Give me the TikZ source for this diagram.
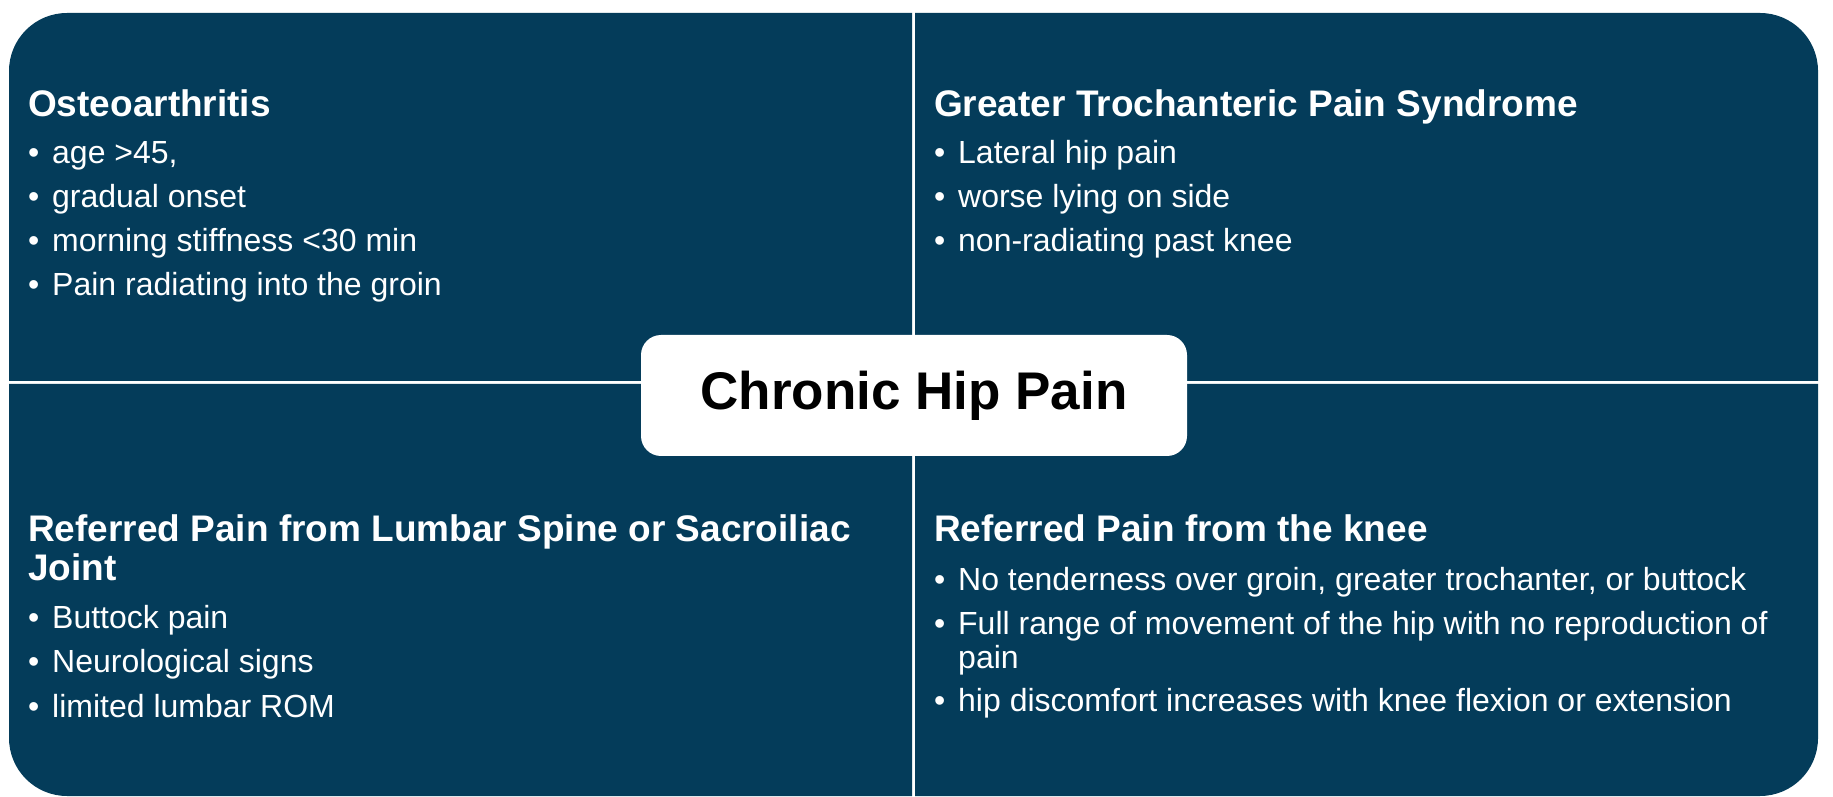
\documentclass[tikz,border=0pt]{standalone}
\definecolor{HipBlue}{RGB}{4,60,90}
\definecolor{HipWhite}{RGB}{255,255,255}
\usepackage{fontspec}
\setmainfont{Liberation Sans}
\usepackage{tikz}
\usetikzlibrary{positioning, calc}
\newcommand{\hipbullet}{\makebox[24pt][l]{\textbullet}}

\begin{document}
\begin{tikzpicture}[x=1pt, y=1pt,
  quad/.style={fill=HipBlue},
  head/.style={anchor=base west, inner sep=0pt, text=HipWhite, font=\bfseries\fontsize{37}{39}\selectfont},
  item/.style={anchor=base west, inner sep=0pt, text=HipWhite, font=\fontsize{32}{34}\selectfont},
  hub/.style={fill=HipWhite, rounded corners=20pt, minimum width=546pt, minimum height=121pt, inner sep=0pt, font=\bfseries\fontsize{53}{55}\selectfont}]
\useasboundingbox (0,0) rectangle (1833,796);
% four quadrants, one rounded outer corner each
\fill[quad] (912,415) -- (9,415) -- (9,725) arc[start angle=180, end angle=90, radius=58pt] -- (912,783) -- cycle;
\fill[quad] (915,415) -- (915,783) -- (1760,783) arc[start angle=90, end angle=0, radius=58pt] -- (1818,415) -- cycle;
\fill[quad] (912,412) -- (9,412) -- (9,58) arc[start angle=180, end angle=270, radius=58pt] -- (912,0) -- cycle;
\fill[quad] (915,412) -- (1818,412) -- (1818,58) arc[start angle=0, end angle=-90, radius=58pt] -- (915,0) -- cycle;
% top left
\node[head] (oa) at (28,679) {Osteoarthritis};
\node[item] (oa1) at (28,632) {\hipbullet age >45,};
\node[item] (oa2) at (28,588) {\hipbullet gradual onset};
\node[item] (oa3) at (28,544) {\hipbullet morning stiffness <30 min};
\node[item] (oa4) at (28,500) {\hipbullet Pain radiating into the groin};
% top right
\node[head] (gt) at (934,679) {Greater Trochanteric Pain Syndrome};
\node[item] (gt1) at (934,632) {\hipbullet Lateral hip pain};
\node[item] (gt2) at (934,588) {\hipbullet worse lying on side};
\node[item] (gt3) at (934,544) {\hipbullet non-radiating past knee};
% bottom left
\node[head] (ls) at (28,255) {Referred Pain from Lumbar Spine or Sacroiliac};
\node[head] (ls0) at (28,216) {Joint};
\node[item] (ls1) at (28,168) {\hipbullet Buttock pain};
\node[item] (ls2) at (28,124) {\hipbullet Neurological signs};
\node[item] (ls3) at (28,79) {\hipbullet limited lumbar ROM};
% bottom right
\node[head] (kn) at (934,255) {Referred Pain from the knee};
\node[item] (kn1) at (934,206) {\hipbullet No tenderness over groin, greater trochanter, or buttock};
\node[item] (kn2) at (934,162) {\hipbullet Full range of movement of the hip with no reproduction of};
\node[item] (kn2b) at (958,128) {pain};
\node[item] (kn3) at (934,85) {\hipbullet hip discomfort increases with knee flexion or extension};
% centre
\node[hub] (hub) at (914,400.5) {\raisebox{-2.5pt}{Chronic Hip Pain}};
\end{tikzpicture}
\end{document}
